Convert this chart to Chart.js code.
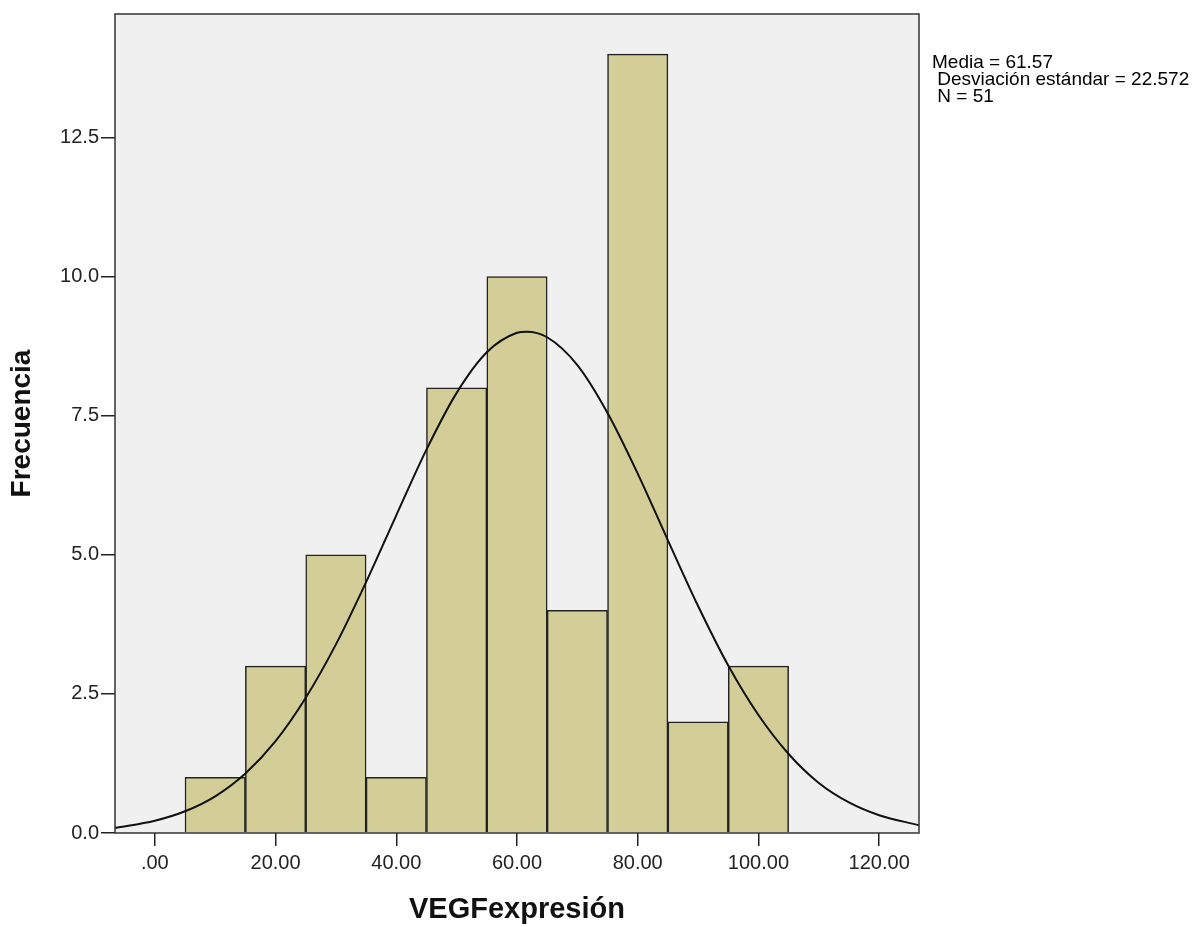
<!DOCTYPE html>
<html>
<head>
<meta charset="utf-8">
<script src="https://cdn.jsdelivr.net/npm/chart.js@4/dist/chart.umd.min.js"></script>
<style>
  body { margin: 0; background: #fff; }
  #wrap { width: 1195px; height: 927px; }
</style>
</head>
<body>
<div id="wrap"><canvas id="hist" width="1195" height="927"></canvas></div>
<script>
// histograma VEGFexpresión con curva normal (SPSS)

// centros de los intervalos (ancho 10) y frecuencias
const binCenters = [10, 20, 30, 40, 50, 60, 70, 80, 90, 100];
const frequencies = [1, 3, 5, 1, 8, 10, 4, 14, 2, 3];

// curva normal
const curveX = [-6.6, 0, 5, 10, 15, 20, 25, 30, 35, 40, 45, 50, 55, 60, 61.57, 65, 70, 75, 80, 85, 90, 95, 100, 105, 110, 115, 120, 126.6];
const curveY = [0.09, 0.22, 0.39, 0.66, 1.07, 1.65, 2.43, 3.39, 4.51, 5.71, 6.89, 7.91, 8.64, 8.99, 9.01, 8.91, 8.41, 7.55, 6.46, 5.26, 4.08, 3.01, 2.12, 1.42, 0.90, 0.55, 0.32, 0.14];

const xTicks = [0, 20, 40, 60, 80, 100, 120];
const yTicks = [0, 2.5, 5, 7.5, 10, 12.5];

const statLines = ['Media = 61.57', ' Desviación estándar = 22.572', ' N = 51'];

const FONT = "'Liberation Sans', Arial, sans-serif";

const plotBox = {
    id: 'plotBox',
    beforeDatasetsDraw(chart) {
        const a = chart.chartArea, ctx = chart.ctx;
        ctx.save();
        ctx.fillStyle = '#f0f0f0';
        ctx.fillRect(a.left, a.top, a.right - a.left, a.bottom - a.top);
        ctx.restore();
    },
    afterDraw(chart) {
        const a = chart.chartArea, ctx = chart.ctx;
        ctx.save();
        ctx.strokeStyle = '#333';
        ctx.lineWidth = 1.5;
        ctx.strokeRect(a.left, a.top, a.right - a.left, a.bottom - a.top);
        // cuadro de estadísticos
        ctx.fillStyle = '#000';
        ctx.font = '19px ' + FONT;
        ctx.textBaseline = 'top';
        statLines.forEach((t, i) => ctx.fillText(t, 932, 53 + i * 17));
        ctx.restore();
    }
};

new Chart(document.getElementById('hist'), {
    data: {
        datasets: [
            {
                type: 'line',
                data: curveX.map((x, i) => ({ x: x, y: curveY[i] })),
                borderColor: '#111',
                borderWidth: 2,
                pointRadius: 0,
                cubicInterpolationMode: 'monotone',
                order: 0
            },
            {
                type: 'bar',
                data: binCenters.map((x, i) => ({ x: x, y: frequencies[i] })),
                backgroundColor: '#d3ce98',
                borderColor: '#222',
                borderWidth: 1.5,
                barPercentage: 1,
                categoryPercentage: 1,
                order: 1
            }
        ]
    },
    options: {
        responsive: false,
        animation: false,
        layout: { padding: { top: 13, right: 276, left: 0, bottom: 0 } },
        plugins: {
            legend: { display: false },
            tooltip: { enabled: false }
        },
        scales: {
            x: {
                type: 'linear',
                min: -6.6,
                max: 126.6,
                offset: false,
                afterBuildTicks: s => { s.ticks = xTicks.map(v => ({ value: v })); },
                afterFit: s => { s.height = 94; },
                grid: { offset: false, drawOnChartArea: false, drawTicks: true, tickLength: 13, color: '#222', lineWidth: 1.5 },
                border: { display: false },
                ticks: {
                    maxRotation: 0,
                    padding: 5,
                    color: '#222',
                    font: { family: FONT, size: 20 },
                    callback: v => v === 0 ? '.00' : v.toFixed(2)
                },
                title: {
                    display: true,
                    text: 'VEGFexpresión',
                    color: '#111',
                    font: { family: FONT, size: 29, weight: 'bold' },
                    padding: { top: 3, bottom: 0 }
                }
            },
            y: {
                min: 0,
                max: 14.72,
                afterBuildTicks: s => { s.ticks = yTicks.map(v => ({ value: v })); },
                afterFit: s => { s.width = 115; },
                grid: { drawOnChartArea: false, drawTicks: true, tickLength: 14, color: '#222', lineWidth: 1.5 },
                border: { display: false },
                ticks: {
                    padding: 2,
                    color: '#222',
                    font: { family: FONT, size: 20 },
                    callback: v => v.toFixed(1)
                },
                title: {
                    display: true,
                    text: 'Frecuencia',
                    color: '#111',
                    font: { family: FONT, size: 28, weight: 'bold' },
                    padding: { top: 5, bottom: 0 }
                }
            }
        }
    },
    plugins: [plotBox]
});
</script>
</body>
</html>
